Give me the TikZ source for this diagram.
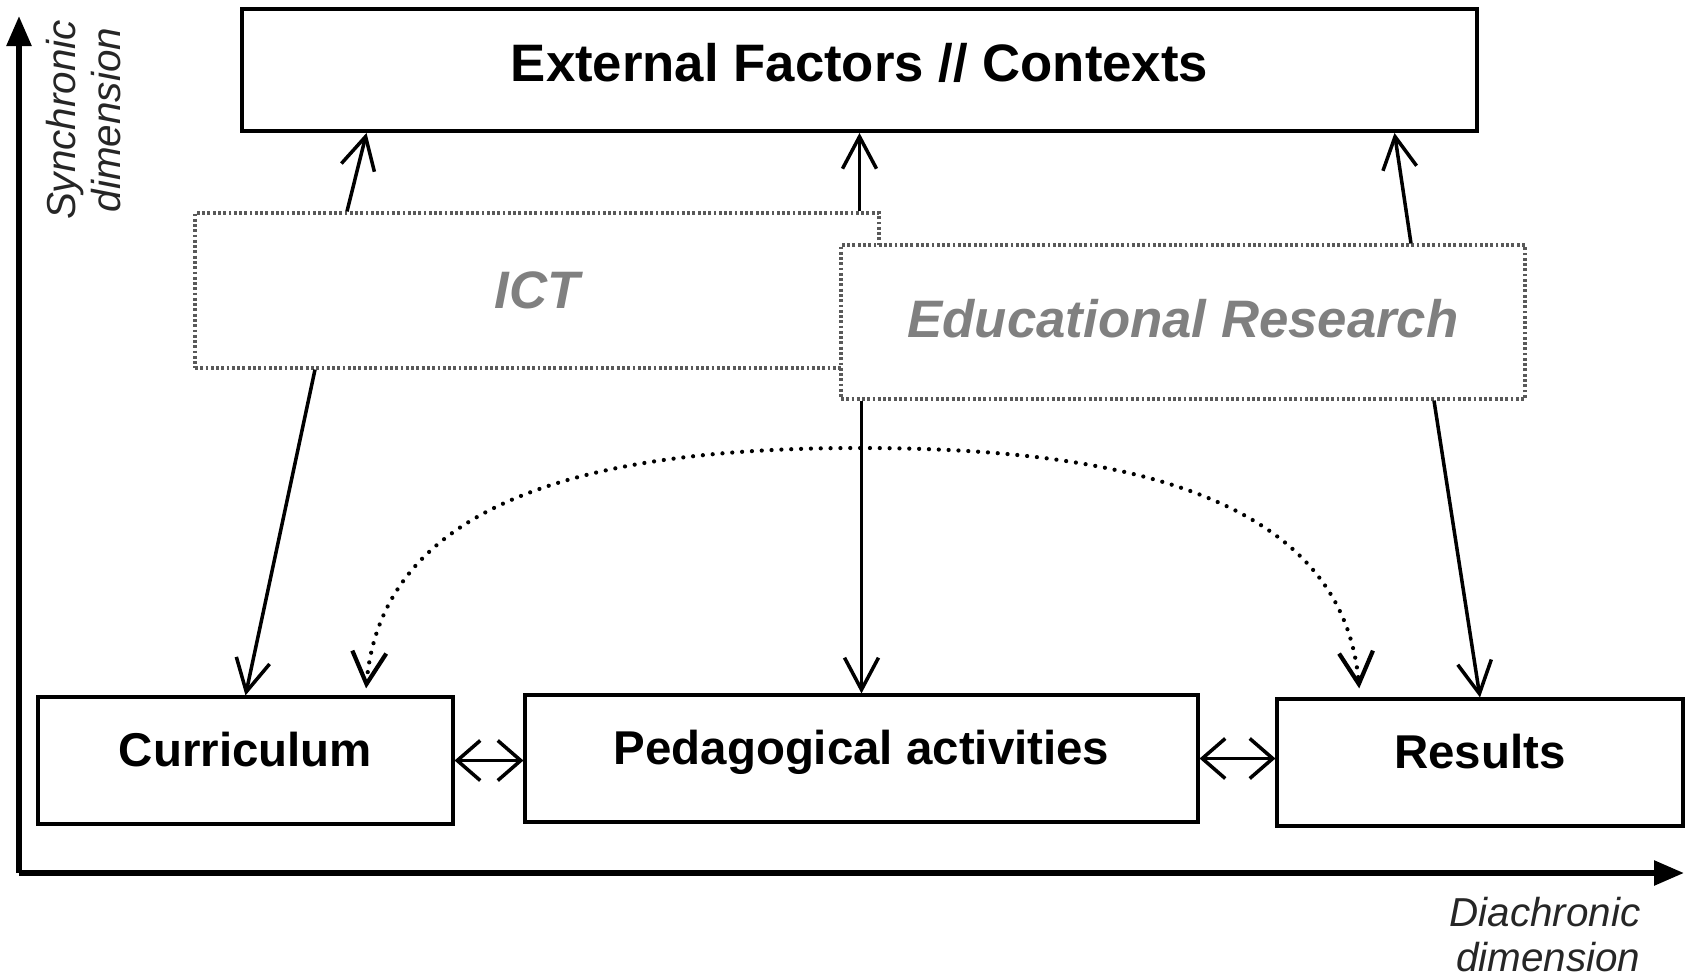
\documentclass[tikz,border=0pt]{standalone}
\usepackage{fontspec}
\setmainfont{Liberation Sans}
\usetikzlibrary{arrows.meta}

\begin{document}
\begin{tikzpicture}[x=0.1mm,y=-0.1mm,>={Straight Barb[length=3.2mm,width=3.4mm]},
  box/.style={draw,line width=0.9pt,fill=white,font=\fontsize{13.5}{16}\selectfont\bfseries,
    text height=3.5mm,text depth=2.4mm,minimum height=12.7mm},
  layer/.style={draw=black!65,line width=0.9pt,dash pattern=on 0.8pt off 0.7pt,fill=white,
    text=black!50,font=\fontsize{15}{18}\selectfont\bfseries\itshape,minimum width=68.4mm},
  link/.style={line width=1pt,->},
  twoway/.style={line width=1pt,{Straight Barb[length=2.3mm,width=4mm]}-{Straight Barb[length=2.3mm,width=4mm]}},
  axis/.style={line width=1.6pt,-{Triangle[length=3mm,width=2.4mm]}},
  dim/.style={text=black!85,font=\fontsize{11.5}{12.8}\selectfont\itshape,align=center}]
  \useasboundingbox (0,0) rectangle (1686,977);
  \coordinate (origin) at (19,873);
  \coordinate (yTop) at (19,16);
  \coordinate (xEnd) at (1684,873);
  \coordinate (arcTop) at (860,448);
  \draw[axis] (origin) -- (yTop);
  \draw[axis] (origin) -- (xEnd);
  \node[dim,rotate=90] (syn) at (84,120) {Synchronic\\dimension};
  \node[dim,align=right] (dia) at (1545,935) {Diachronic\\dimension};

  \node[box,line width=1.1pt,font=\fontsize{15}{18}\selectfont\bfseries,text height=3.8mm,text depth=1.5mm,
    minimum width=123.5mm,minimum height=12.2mm] (ext) at (859.5,70) {External Factors // Contexts};
  \node[layer,minimum height=15.5mm] (ict) at (537,290.5) {ICT};
  \node[layer,minimum height=15.4mm,text depth=0.8mm] (er) at (1183,322) {Educational Research};
  \node[box,minimum width=41.5mm] (cur) at (245.5,760.5) {Curriculum};
  \node[box,minimum width=67.3mm] (ped) at (861.5,758.5) {Pedagogical activities};
  \node[box,minimum width=40.6mm] (res) at (1480,762.5) {Results};

  \path[link]
    ([xshift=-19mm]ict.north) edge ([xshift=-49.3mm]ext.south)
    (ext.south |- ict.north) edge (ext.south)
    ([xshift=22.8mm]er.north) edge ([xshift=53.5mm]ext.south)
    ([xshift=-22.2mm]ict.south) edge (cur.north)
    (ped.north |- er.south) edge (ped.north)
    ([xshift=25.1mm]er.south) edge (res.north);
  \path[twoway]
    (cur.east) edge (cur.east -| ped.west)
    (ped.east) edge (ped.east -| res.west);
  \draw[link,<->,line width=1.2pt,line cap=round,dash pattern=on 0pt off 2.8pt,shorten <=0.7mm,shorten >=0.9mm]
    ([xshift=12mm]cur.north) to[out=85,in=180] (arcTop) to[out=0,in=95] ([xshift=-12mm]res.north);
\end{tikzpicture}
\end{document}
